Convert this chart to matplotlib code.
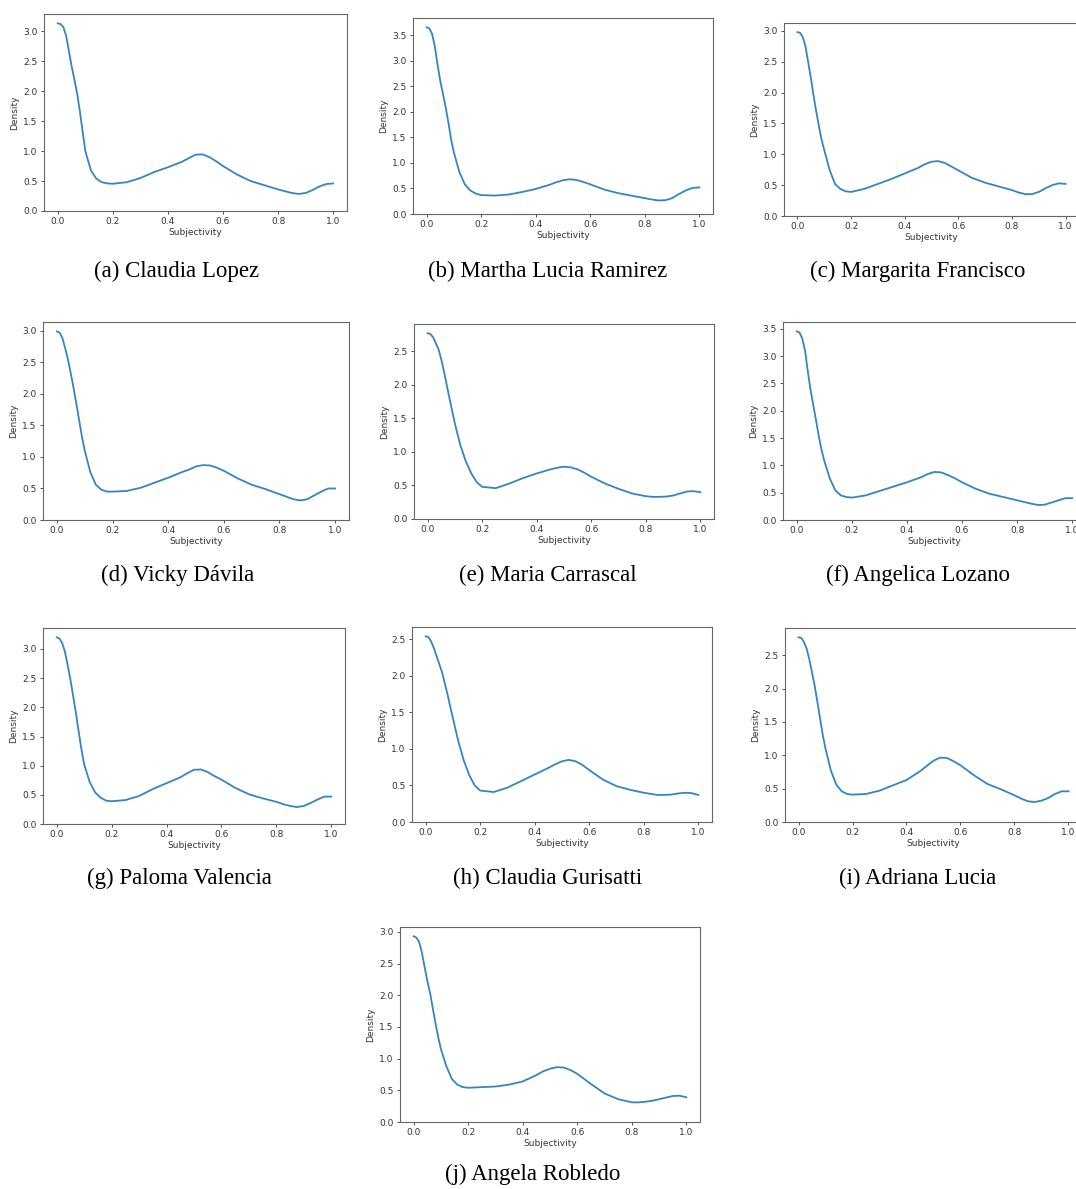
# -*- coding: utf-8 -*-

#   Importing Modules/Libraries/Packages
import numpy as np
import matplotlib
matplotlib.use('Agg')
import matplotlib.pyplot as plt
from matplotlib.ticker import MultipleLocator


#   Data
subjectivity = [0.00, 0.01, 0.02, 0.03, 0.04, 0.05, 0.06, 0.07, 0.08, 0.09,
                0.10, 0.12, 0.14, 0.16, 0.18, 0.20, 0.25, 0.30, 0.35, 0.40,
                0.45, 0.475, 0.50, 0.525, 0.55, 0.575, 0.60, 0.65, 0.70, 0.75,
                0.80, 0.825, 0.85, 0.875, 0.90, 0.925, 0.95, 0.975, 1.00]

claudia_lopez = [3.13, 3.12, 3.07, 2.93, 2.68, 2.42, 2.20, 1.97, 1.67, 1.33,
                 1.00, 0.68, 0.54, 0.48, 0.46, 0.455, 0.48, 0.55, 0.65, 0.73,
                 0.82, 0.88, 0.94, 0.945, 0.90, 0.83, 0.75, 0.61, 0.50, 0.43,
                 0.36, 0.33, 0.30, 0.285, 0.30, 0.35, 0.41, 0.45, 0.46]
martha_ramirez = [3.65, 3.63, 3.52, 3.28, 2.92, 2.60, 2.35, 2.08, 1.78, 1.45,
                  1.20, 0.82, 0.58, 0.46, 0.40, 0.37, 0.36, 0.38, 0.43, 0.49,
                  0.57, 0.62, 0.66, 0.68, 0.665, 0.625, 0.58, 0.48, 0.41, 0.36,
                  0.31, 0.285, 0.265, 0.27, 0.31, 0.39, 0.46, 0.51, 0.52]
margarita_francisco = [2.98, 2.97, 2.90, 2.75, 2.50, 2.24, 1.96, 1.70, 1.46, 1.24,
                       1.07, 0.75, 0.52, 0.44, 0.40, 0.39, 0.44, 0.52, 0.60, 0.69,
                       0.78, 0.84, 0.88, 0.89, 0.86, 0.80, 0.74, 0.62, 0.54, 0.48,
                       0.42, 0.38, 0.355, 0.355, 0.39, 0.45, 0.50, 0.53, 0.52]
vicky_davila = [2.99, 2.97, 2.88, 2.72, 2.54, 2.32, 2.09, 1.84, 1.58, 1.32,
                1.10, 0.76, 0.56, 0.48, 0.45, 0.45, 0.46, 0.51, 0.59, 0.67,
                0.76, 0.80, 0.85, 0.87, 0.865, 0.83, 0.78, 0.66, 0.56, 0.49,
                0.41, 0.37, 0.33, 0.31, 0.33, 0.39, 0.45, 0.50, 0.50]
maria_carrascal = [2.77, 2.76, 2.71, 2.62, 2.53, 2.38, 2.20, 2.00, 1.80, 1.61,
                   1.42, 1.10, 0.86, 0.68, 0.55, 0.48, 0.46, 0.53, 0.61, 0.68,
                   0.74, 0.765, 0.78, 0.77, 0.74, 0.69, 0.63, 0.53, 0.45, 0.38,
                   0.34, 0.33, 0.33, 0.335, 0.35, 0.38, 0.41, 0.415, 0.40]
angelica_lozano = [3.45, 3.43, 3.32, 3.10, 2.72, 2.38, 2.10, 1.82, 1.53, 1.28,
                   1.08, 0.76, 0.54, 0.45, 0.42, 0.41, 0.45, 0.53, 0.61, 0.69,
                   0.78, 0.84, 0.88, 0.87, 0.82, 0.76, 0.69, 0.57, 0.48, 0.42,
                   0.36, 0.33, 0.30, 0.275, 0.28, 0.32, 0.36, 0.40, 0.40]
paloma_valencia = [3.20, 3.18, 3.10, 2.95, 2.72, 2.47, 2.19, 1.90, 1.58, 1.28,
                   1.02, 0.72, 0.54, 0.45, 0.40, 0.39, 0.41, 0.48, 0.60, 0.70,
                   0.80, 0.87, 0.93, 0.935, 0.89, 0.82, 0.76, 0.62, 0.51, 0.44,
                   0.38, 0.34, 0.31, 0.29, 0.31, 0.36, 0.42, 0.47, 0.47]
claudia_gurisatti = [2.54, 2.53, 2.47, 2.38, 2.27, 2.16, 2.05, 1.90, 1.75, 1.58,
                     1.42, 1.10, 0.84, 0.64, 0.50, 0.43, 0.41, 0.47, 0.56, 0.65,
                     0.74, 0.79, 0.83, 0.85, 0.83, 0.78, 0.71, 0.58, 0.49, 0.44,
                     0.40, 0.385, 0.37, 0.37, 0.375, 0.39, 0.40, 0.395, 0.37]
adriana_lucia = [2.77, 2.76, 2.70, 2.60, 2.44, 2.24, 2.04, 1.80, 1.55, 1.30,
                 1.10, 0.77, 0.56, 0.46, 0.42, 0.41, 0.42, 0.47, 0.55, 0.63,
                 0.76, 0.84, 0.92, 0.965, 0.96, 0.91, 0.85, 0.70, 0.57, 0.49,
                 0.40, 0.35, 0.31, 0.30, 0.32, 0.36, 0.42, 0.46, 0.46]
angela_robledo = [2.93, 2.91, 2.84, 2.68, 2.45, 2.23, 2.04, 1.80, 1.56, 1.34,
                  1.15, 0.88, 0.68, 0.59, 0.55, 0.54, 0.55, 0.56, 0.59, 0.64,
                  0.74, 0.80, 0.84, 0.865, 0.86, 0.82, 0.76, 0.60, 0.45, 0.36,
                  0.31, 0.31, 0.32, 0.335, 0.36, 0.385, 0.41, 0.415, 0.39]

captions = ['(a) Claudia Lopez', '(b) Martha Lucia Ramirez',
            '(c) Margarita Francisco', '(d) Vicky Dávila',
            '(e) Maria Carrascal', '(f) Angelica Lozano',
            '(g) Paloma Valencia', '(h) Claudia Gurisatti',
            '(i) Adriana Lucia', '(j) Angela Robledo']
densities = [claudia_lopez, martha_ramirez, margarita_francisco, vicky_davila,
             maria_carrascal, angelica_lozano, paloma_valencia,
             claudia_gurisatti, adriana_lucia, angela_robledo]


#   Layout in pixels: axes box (left, top, right, bottom) and caption centre
W, H = 1076, 1189
boxes = [(44, 14, 347, 211), (413, 18, 713, 214), (784, 23, 1079, 216),
         (43, 322, 349, 520), (414, 324, 714, 519), (783, 322, 1086, 520),
         (43, 628, 345, 824), (412, 627, 712, 822), (785, 628, 1082, 822),
         (400, 927, 700, 1122)]
caption_pos = [(177, 271), (548, 271), (918, 271),
               (178, 575), (548, 575), (918, 575),
               (179, 878), (548, 878), (918, 878),
               (533, 1174)]

line_color = '#3585c3'
text_color = '#333333'
spine_color = '#666666'

fig = plt.figure(figsize=(W / 100, H / 100), dpi=100)

for i, dens in enumerate(densities):
    l, t, r, b = boxes[i]
    ax = fig.add_axes([l / W, 1 - b / H, (r - l) / W, (b - t) / H])
    ax.plot(subjectivity, dens, color=line_color, linewidth=1.3,
            solid_joinstyle='round')
    ax.margins(x=0.05)
    ax.set_ylim(0, max(dens) * 1.05)
    ax.xaxis.set_major_locator(MultipleLocator(0.2))
    ax.yaxis.set_major_locator(MultipleLocator(0.5))
    ax.tick_params(labelsize=6.5, colors=text_color, length=2.5, width=0.6,
                   pad=2)
    for s in ax.spines.values():
        s.set_color(spine_color)
        s.set_linewidth(0.8)
    ax.set_xlabel('Subjectivity', fontsize=6.5, color=text_color, labelpad=1)
    ax.set_ylabel('Density', fontsize=6.5, color=text_color, labelpad=3)

    cx, cy = caption_pos[i]
    fig.text(cx / W, 1 - cy / H, captions[i], ha='center', va='center',
             fontsize=16.5, family='Liberation Serif', color='black')

plt.savefig('out.png', dpi=100)
